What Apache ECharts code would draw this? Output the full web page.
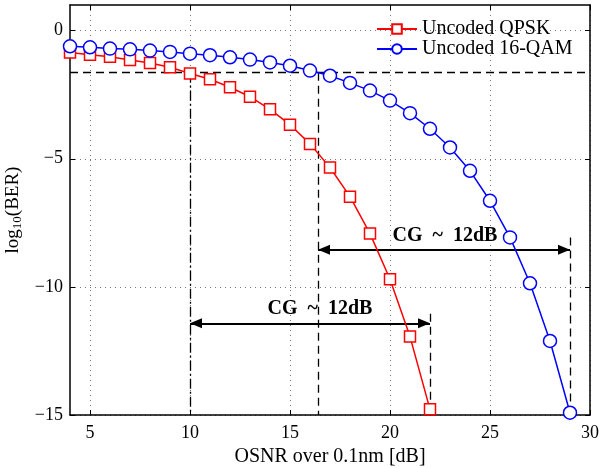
<!DOCTYPE html>
<html>
<head>
<meta charset="utf-8">
<script src="https://cdn.jsdelivr.net/npm/echarts@6/dist/echarts.min.js"></script>
<style>html,body{margin:0;padding:0;background:#fff}#c{width:602px;height:468px}</style>
</head>
<body>
<div id="c"></div>
<script>
// ---- data ----
const qpskOsnr = [4,5,6,7,8,9,10,11,12,13,14,15,16,17,18,19,20,21,22];
const qpskBer  = [-0.85,-0.94,-1.02,-1.15,-1.26,-1.43,-1.67,-1.90,-2.21,-2.58,-3.07,-3.67,-4.42,-5.34,-6.48,-7.92,-9.70,-11.94,-14.78];
const qamOsnr  = [4,5,6,7,8,9,10,11,12,13,14,15,16,17,18,19,20,21,22,23,24,25,26,27,28,29];
const qamBer   = [-0.61,-0.65,-0.70,-0.73,-0.78,-0.83,-0.90,-0.96,-1.04,-1.13,-1.24,-1.37,-1.56,-1.76,-2.04,-2.34,-2.73,-3.22,-3.83,-4.56,-5.47,-6.64,-8.07,-9.86,-12.11,-14.91];
const xTicks = [5,10,15,20,25,30];
const yTicks = [-15,-10,-5,0];
const threshold = -1.64;
const qpskCross = 10;
const qamCross = 16.4;
const lowArrow  = {y: -11.42, from: 10, to: 22, tickTop: -11.05};
const highArrow = {y: -8.55, from: 16.4, to: 29, tickTop: -8.07};
const cgLabels = [{x: 16.5, y: -10.86, text: 'CG\u2002~\u200212dB'}, {x: 22.75, y: -8.0, text: 'CG\u2002~\u200212dB'}];
const names = ['Uncoded QPSK', 'Uncoded 16-QAM'];

// ---- chart ----
const SERIF = '"Liberation Serif", "DejaVu Serif", serif';
const zip = (a, b) => a.map((v, i) => [v, b[i]]);
const chart = echarts.init(document.getElementById('c'), null, {renderer: 'canvas'});
const dashed = {color: '#000', width: 1.3, type: [8, 5]};
const dashDot = {color: '#000', width: 1.3, type: [10, 3, 2, 3]};
const gridLine = {show: true, lineStyle: {color: '#777', width: 1, type: [1, 4]}};
const axisLine = {show: true, onZero: false, lineStyle: {color: '#000', width: 1.5}};
const minus = v => String(v).replace('-', '\u2212');

chart.setOption({
  animation: false,
  backgroundColor: '#fff',
  grid: {left: 70, right: 12, top: 5, bottom: 53, outerBoundsMode: 'none', containLabel: false},
  legend: {
    data: names, orient: 'vertical', left: 371, top: 14, itemGap: 0,
    itemWidth: 40, itemHeight: 12,
    textStyle: {fontFamily: SERIF, fontSize: 20, color: '#000'}
  },
  xAxis: [{
    type: 'value', min: 4, max: 30, position: 'bottom',
    name: 'OSNR over 0.1nm [dB]', nameLocation: 'middle', nameGap: 28,
    nameTextStyle: {fontFamily: SERIF, fontSize: 20, color: '#000'},
    axisLine: axisLine,
    axisTick: {show: true, inside: true, length: 5, customValues: xTicks, lineStyle: {color: '#000'}},
    axisLabel: {customValues: xTicks, margin: 9, fontFamily: SERIF, fontSize: 18, color: '#000'},
    splitLine: gridLine
  }, {
    type: 'value', min: 4, max: 30, position: 'top',
    axisLine: axisLine,
    axisTick: {show: true, inside: true, length: 5, customValues: xTicks, lineStyle: {color: '#000'}},
    axisLabel: {show: false}, splitLine: {show: false}
  }],
  yAxis: [{
    type: 'value', min: -15, max: 1, position: 'left',
    name: 'log{s|10}(BER)', nameLocation: 'middle', nameGap: 43,
    nameTextStyle: {fontFamily: SERIF, fontSize: 19, color: '#000',
      rich: {s: {fontFamily: SERIF, fontSize: 13, color: '#000', padding: [9, 0, 0, 0]}}},
    axisLine: axisLine,
    axisTick: {show: true, inside: true, length: 5, customValues: yTicks, lineStyle: {color: '#000'}},
    axisLabel: {customValues: yTicks, margin: 7, fontFamily: SERIF, fontSize: 18, color: '#000', formatter: minus},
    splitLine: gridLine
  }, {
    type: 'value', min: -15, max: 1, position: 'right',
    axisLine: axisLine,
    axisTick: {show: true, inside: true, length: 5, customValues: yTicks, lineStyle: {color: '#000'}},
    axisLabel: {show: false}, splitLine: {show: false}
  }],
  series: [{
    name: names[0], type: 'line', data: zip(qpskOsnr, qpskBer), z: 5,
    symbol: 'rect', symbolSize: 11, showAllSymbol: true,
    lineStyle: {color: '#ff0000', width: 1.5},
    itemStyle: {color: '#fff', borderColor: '#ff0000', borderWidth: 1.5}
  }, {
    name: names[1], type: 'line', data: zip(qamOsnr, qamBer), z: 5,
    symbol: 'circle', symbolSize: 13, showAllSymbol: true,
    lineStyle: {color: '#0000ff', width: 1.5},
    itemStyle: {color: '#fff', borderColor: '#0000ff', borderWidth: 1.5}
  }, {
    name: 'refs', type: 'line', data: [], z: 3,
    markLine: {
      silent: true, symbol: 'none', animation: false,
      label: {show: false},
      data: [
        [{coord: [4, threshold], lineStyle: dashed}, {coord: [30, threshold]}],
        [{coord: [qpskCross, threshold], lineStyle: dashDot}, {coord: [qpskCross, -15]}],
        [{coord: [qamCross, threshold], lineStyle: dashed}, {coord: [qamCross, -15]}],
        [{coord: [lowArrow.to, lowArrow.tickTop], lineStyle: dashed}, {coord: [lowArrow.to, -15]}],
        [{coord: [highArrow.to, highArrow.tickTop], lineStyle: dashed}, {coord: [highArrow.to, -15]}]
      ]
    }
  }, {
    name: 'arrows', type: 'line', data: [], z: 4,
    markLine: {
      silent: true, symbol: ['triangle', 'triangle'], symbolSize: [10, 12],
      symbolOffset: [[0, 6], [0, 6]], animation: false,
      label: {show: false},
      lineStyle: {color: '#000', width: 1.8, type: 'solid'},
      data: [
        [{coord: [lowArrow.from, lowArrow.y]}, {coord: [lowArrow.to, lowArrow.y]}],
        [{coord: [highArrow.from, highArrow.y]}, {coord: [highArrow.to, highArrow.y]}]
      ]
    },
    markPoint: {
      silent: true, symbol: 'circle', symbolSize: 0, animation: false,
      data: cgLabels.map(l => ({
        coord: [l.x, l.y],
        label: {show: true, position: 'inside', formatter: l.text,
          fontFamily: SERIF, fontWeight: 'bold', fontSize: 20, color: '#000'}
      }))
    }
  }]
});
</script>
</body>
</html>
